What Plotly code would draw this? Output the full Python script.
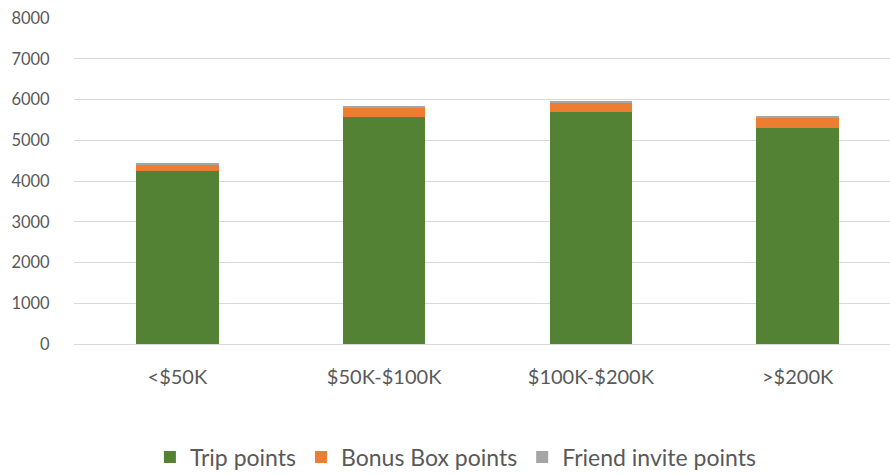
import plotly.graph_objects as go

categories = ["<$50K", "$50K-$100K", "$100K-$200K", ">$200K"]
trip_points = [4240, 5560, 5690, 5310]
bonus_box_points = [160, 220, 220, 245]
friend_invite_points = [25, 50, 55, 25]

series = [
    ("Trip points", trip_points, "#548235"),
    ("Bonus Box points", bonus_box_points, "#ED7D31"),
    ("Friend invite points", friend_invite_points, "#A5A5A5"),
]

fig = go.Figure()
for name, vals, color in series:
    fig.add_trace(go.Bar(
        x=categories, y=vals, name=name,
        marker=dict(color=color, line=dict(width=0)),
        width=0.4,
    ))

fig.update_layout(
    barmode="stack",
    width=901, height=475,
    margin=dict(l=74, r=0, t=18, b=131),
    paper_bgcolor="white", plot_bgcolor="white",
    font=dict(family="Lato, Carlito, Calibri, sans-serif", color="#595959"),
    legend=dict(orientation="h", xref="container", yref="container",
                x=0.506, xanchor="center", y=0.038, yanchor="middle",
                font=dict(size=23, color="#595959"), traceorder="normal",
                itemwidth=30),
    xaxis=dict(showgrid=False, showline=True, linecolor="#d9d9d9", linewidth=1,
               ticks="outside", ticklen=15, tickcolor="rgba(0,0,0,0)",
               tickfont=dict(size=20, color="#595959"), automargin=False),
    yaxis=dict(range=[0, 8000], dtick=1000, showgrid=True, gridcolor="#d9d9d9",
               zeroline=False, ticks="outside", ticklen=20, tickcolor="rgba(0,0,0,0)",
               tickfont=dict(size=16.5, color="#595959"), showline=False, automargin=False),
)

fig.write_html("out.html", config={"displayModeBar": False},
               post_script="document.body.style.margin='0';document.body.style.overflow='hidden';")
